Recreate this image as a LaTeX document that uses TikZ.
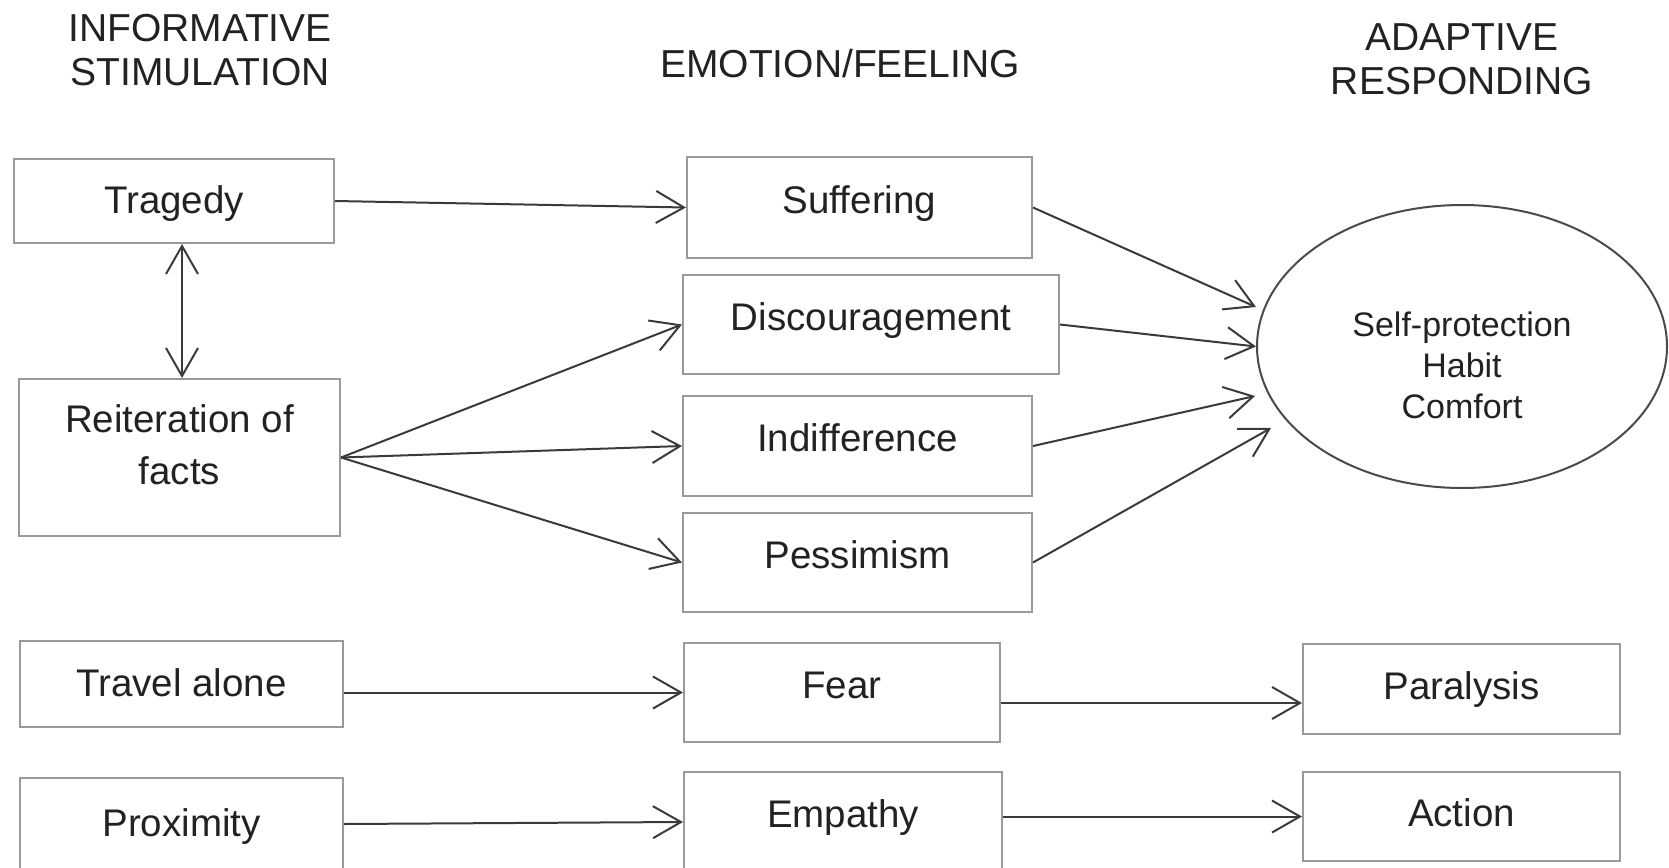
\documentclass[tikz,border=0pt]{standalone}
\usepackage{fontspec}
\setmainfont{Liberation Sans}
\usetikzlibrary{arrows.meta,shapes.geometric}
\definecolor{boxgray}{HTML}{9A9A9A}
\definecolor{linegray}{HTML}{3A3A3A}
\definecolor{ellgray}{HTML}{4A4A4A}
\definecolor{txt}{HTML}{222222}
\begin{document}
\begin{tikzpicture}[x=1pt,y=-1pt,
  box/.style={draw=boxgray, line width=2pt, rectangle, inner sep=0pt,
    font=\fontsize{38.5}{46}\selectfont, text=txt},
  leftbox/.style={box, text height=28pt, text depth=4pt},
  midbox/.style={box, text height=28pt, text depth=17pt},
  rightbox/.style={box, text height=28pt, text depth=8pt},
  conn/.style={draw=linegray, line width=2pt,
    -{Straight Barb[length=28pt,width=32pt,line width=2pt]}},
  dconn/.style={draw=linegray, line width=2pt,
    {Straight Barb[length=28pt,width=32pt,line width=2pt]}-{Straight Barb[length=28pt,width=32pt,line width=2pt]}},
  head/.style={inner sep=0pt, anchor=north, align=center, text=txt,
    font=\fontsize{39}{44.5}\selectfont},
]
\useasboundingbox (0,0) rectangle (1669,867);

% headers
\node[head] (h1) at (200,14) {INFORMATIVE\\STIMULATION};
\node[head] (h2) at (840,49) {EMOTION/FEELING};
\node[head] (h3) at (1462,23) {ADAPTIVE\\RESPONDING};

% left column
\node[leftbox, minimum width=320pt, minimum height=84pt] (trag) at (174,201) {Tragedy};
\node[box, minimum width=321pt, minimum height=157pt, align=center,
  font=\fontsize{38.5}{52}\selectfont] (reit) at (179.5,457.5)
  {Reiteration of\\facts\rule[-25pt]{0pt}{0pt}};
\node[leftbox, minimum width=323pt, minimum height=86pt] (trav) at (181.5,684) {Travel alone};
\node[leftbox, minimum width=323pt, minimum height=92pt] (prox) at (181.5,824) {Proximity};

% middle column
\node[midbox, minimum width=345pt, minimum height=101pt] (suff) at (859.5,207.5) {Suffering};
\node[midbox, minimum width=376pt, minimum height=99pt] (disc) at (871,324.5) {Discouragement};
\node[midbox, minimum width=349pt, minimum height=100pt] (indi) at (857.5,446) {Indifference};
\node[midbox, minimum width=349pt, minimum height=99pt] (pess) at (857.5,562.5) {Pessimism};
\node[midbox, minimum width=316pt, minimum height=99pt] (fear) at (842,692.5) {Fear};
\node[midbox, minimum width=318pt, minimum height=100pt] (empa) at (843,822) {Empathy};

% right column
\node[draw=ellgray, line width=2pt, ellipse, inner sep=0pt, minimum width=410pt,
  minimum height=283pt, align=center, text=txt,
  font=\fontsize{34}{41}\selectfont] (ell) at (1462,346.5)
  {\rule{0pt}{63pt}Self-protection\\Habit\\Comfort};
\node[rightbox, minimum width=317pt, minimum height=90pt] (para) at (1461.5,689) {Paralysis};
\node[rightbox, minimum width=317pt, minimum height=89pt] (acti) at (1461.5,816.5) {Action};

% arrow end points on the ellipse
\coordinate (e1) at (1256,307);
\coordinate (e3) at (1255,396);
\coordinate (e4) at (1271,428);

% connectors
\draw[conn] (trag.east) -- (suff.west);
\draw[dconn] ([xshift=8pt]trag.south) -- ([xshift=2.5pt]reit.north);
\draw[conn] (reit.east) -- (disc.west);
\draw[conn] (reit.east) -- (indi.west);
\draw[conn] (reit.east) -- (pess.west);
\draw[conn] (suff.east) -- (e1);
\draw[conn] (disc.east) -- (ell.west);
\draw[conn] (indi.east) -- (e3);
\draw[conn] (pess.east) -- (e4);
\draw[conn] (trav.east |- fear.west) -- (fear.west);
\draw[conn] ([yshift=-10.5pt]fear.east) -- ([yshift=-10.5pt]fear.east -| para.west);
\draw[conn] (prox.east) -- (empa.west);
\draw[conn] (empa.east |- acti.west) -- (acti.west);
\end{tikzpicture}
\end{document}
